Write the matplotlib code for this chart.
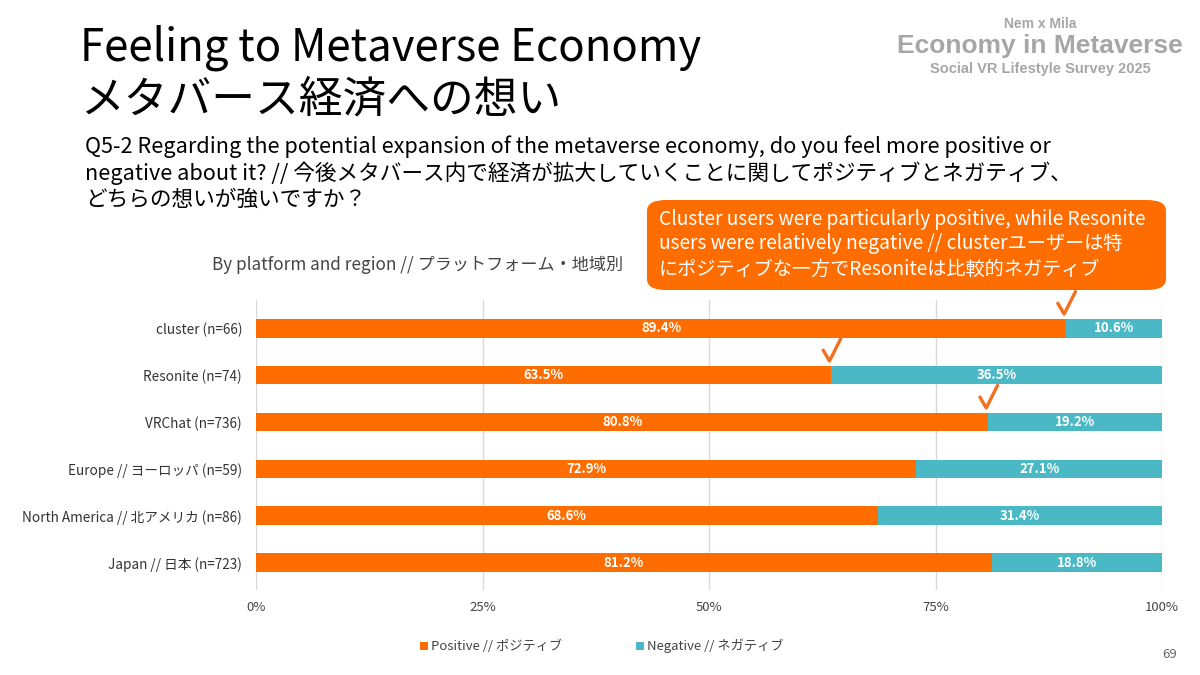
import matplotlib
matplotlib.use("Agg")
import matplotlib.pyplot as plt
from matplotlib.patches import FancyBboxPatch, Rectangle
import numpy as np

plt.rcParams['font.family'] = ['Noto Sans CJK JP', 'DejaVu Sans']

# データ
categories = ["cluster (n=66)", "Resonite (n=74)", "VRChat (n=736)",
              "Europe // ヨーロッパ (n=59)", "North America // 北アメリカ (n=86)",
              "Japan // 日本 (n=723)"]
positive = [89.4, 63.5, 80.8, 72.9, 68.6, 81.2]
negative = [10.6, 36.5, 19.2, 27.1, 31.4, 18.8]
checked = [0, 1, 2]  # チェックマークを付ける行
xticks = [0, 25, 50, 75, 100]
xtick_labels = ["0%", "25%", "50%", "75%", "100%"]
legend_labels = ["Positive // ポジティブ", "Negative // ネガティブ"]

orange = "#FF6D00"
teal = "#4BB9C5"
bar_h = 0.4

fig = plt.figure(figsize=(12, 6.75), dpi=100)
ax = fig.add_axes([256 / 1200, 1 - 590 / 675, 906 / 1200, 290 / 675])

y = np.arange(len(categories))
ax.barh(y, positive, height=bar_h, color=orange)
ax.barh(y, negative, left=positive, height=bar_h, color=teal)

for i in range(len(categories)):
    ax.text(positive[i] / 2, y[i], f"{positive[i]:.1f}%", ha="center", va="center",
            color="white", fontsize=9.5, fontweight="bold")
    ax.text(positive[i] + negative[i] / 2, y[i], f"{negative[i]:.1f}%", ha="center",
            va="center", color="white", fontsize=9.5, fontweight="bold")

# チェックマーク（バーの端の上）
for i in checked:
    xb = positive[i] - 0.2
    yb = y[i] - bar_h / 2 - 0.1
    ax.plot([xb - 0.7, xb, xb + 1.25], [yb - 0.23, yb, yb - 0.48],
            color="#F07020", linewidth=2.4, solid_capstyle="round",
            solid_joinstyle="round", clip_on=False)

ax.set_xlim(0, 100)
ax.set_ylim(len(categories) - 0.42, -0.6)
ax.set_xticks(xticks)
ax.set_xticklabels(xtick_labels, fontsize=9.5, color="#444444")
ax.set_yticks(y)
ax.set_yticklabels(categories, fontsize=9.8, color="#333333")
ax.tick_params(length=0, pad=8)
ax.tick_params(axis="y", pad=10)
ax.xaxis.grid(True, color="#d9d9d9", linewidth=1)
ax.set_axisbelow(True)
for s in ax.spines.values():
    s.set_visible(False)

# タイトル
fig.text(80 / 1200, 1 - 48 / 675, "Feeling to Metaverse Economy", fontsize=31.5,
         va="center", color="black")
fig.text(80 / 1200, 1 - 100 / 675, "メタバース経済への想い", fontsize=31.5,
         va="center", color="black")
fig.text(85 / 1200, 1 - 173 / 675,
         "Q5-2 Regarding the potential expansion of the metaverse economy, do you feel more positive or\n"
         "negative about it? // 今後メタバース内で経済が拡大していくことに関してポジティブとネガティブ、\n"
         "どちらの想いが強いですか？",
         fontsize=15.6, va="center", color="black", linespacing=1.2)
fig.text(418 / 1200, 1 - 265 / 675, "By platform and region // プラットフォーム・地域別",
         fontsize=12.3, ha="center", va="center", color="#444444")

# 右上ロゴ
logo_font = ['Liberation Sans', 'DejaVu Sans']
fig.text(1040 / 1200, 1 - 24 / 675, "Nem x Mila", fontsize=10, ha="center", va="center",
         color="#a6a6a6", fontweight="bold", family=logo_font)
fig.text(1040 / 1200, 1 - 46 / 675, "Economy in Metaverse", fontsize=19, ha="center",
         va="center", color="#a6a6a6", fontweight="bold", family=logo_font)
fig.text(1040 / 1200, 1 - 69 / 675, "Social VR Lifestyle Survey 2025", fontsize=10.5,
         ha="center", va="center", color="#a6a6a6", fontweight="bold", family=logo_font)

# 吹き出し
box = FancyBboxPatch((647 / 1200, 1 - 290 / 675), 519 / 1200, 90 / 675,
                     boxstyle="round,pad=0,rounding_size=0.016",
                     transform=fig.transFigure, facecolor=orange, edgecolor="none")
fig.patches.append(box)
fig.text(659 / 1200, 1 - 244 / 675,
         "Cluster users were particularly positive, while Resonite\n"
         "users were relatively negative // clusterユーザーは特\n"
         "にポジティブな一方でResoniteは比較的ネガティブ",
         fontsize=13.8, va="center", color="white", linespacing=1.25)

# 凡例
for lx, label, c in zip([420, 636], legend_labels, [orange, teal]):
    fig.patches.append(Rectangle((lx / 1200, 1 - 650 / 675), 8 / 1200, 8 / 675,
                                 transform=fig.transFigure, facecolor=c, edgecolor="none"))
    fig.text((lx + 11) / 1200, 1 - 646 / 675, label, fontsize=9.5, va="center",
             color="#444444")

fig.text(1170 / 1200, 1 - 654 / 675, "69", fontsize=9.5, ha="center", va="center",
         color="#666666")

fig.savefig("out.png", dpi=100)
